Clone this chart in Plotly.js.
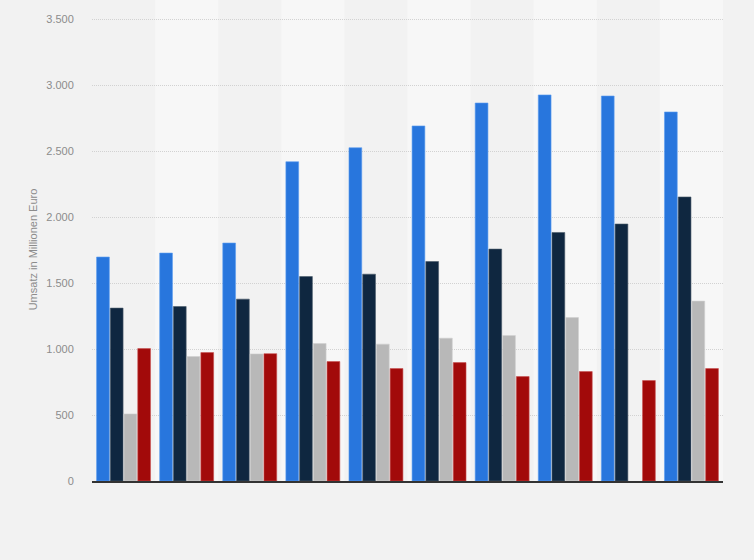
<!DOCTYPE html>
<html>
<head>
<meta charset="utf-8">
<script src="https://cdn.plot.ly/plotly-3.0.1.min.js"></script>
<style>
html,body{margin:0;padding:0;background:#f2f2f2;}
#chart{width:754px;height:560px;}
</style>
</head>
<body>
<div id="chart"></div>
<script>
const categories = ["2010","2011","2012","2013","2014","2015","2016","2017","2018","2019"];
const seriesNames = ["Serie 1","Serie 2","Serie 3","Serie 4"];
const serie1 = [1697, 1727, 1803, 2419, 2525, 2690, 2864, 2925, 2917, 2796];
const serie2 = [1310, 1322, 1378, 1549, 1567, 1663, 1757, 1883, 1947, 2152];
const serie3 = [508, 943, 963, 1041, 1037, 1082, 1102, 1238, null, 1363];
const serie4 = [1003, 973, 965, 905, 852, 897, 791, 829, 761, 852];
const colors = ["#2876dd", "#0f2740", "#b8b8b8", "#a20a0a"];
const lineColors = ["#5a9cf0", "#4a5a6a", "#d0d0d0", "#c85050"];
const yTicks = [0, 500, 1000, 1500, 2000, 2500, 3000, 3500];

const allSeries = [serie1, serie2, serie3, serie4];
const traces = allSeries.map((vals, i) => ({
  type: "bar",
  x: categories,
  y: vals,
  name: seriesNames[i],
  marker: {color: colors[i], line: {color: lineColors[i], width: 0.6}},
  hoverinfo: "y"
}));

const shapes = categories.map((c, i) => i % 2 === 1 ? {
  type: "rect", xref: "x", yref: "paper",
  x0: i - 0.5, x1: i + 0.5, y0: 0, y1: 1.1,
  fillcolor: "#f7f7f7", line: {width: 0}, layer: "below"
} : null).filter(s => s);

const layout = {
  width: 754, height: 560,
  paper_bgcolor: "#f2f2f2",
  plot_bgcolor: "rgba(0,0,0,0)",
  margin: {l: 92, r: 31, t: 18, b: 79},
  separators: ",.",
  showlegend: false,
  barmode: "group",
  bargap: 0.13,
  bargroupgap: 0.07,
  font: {family: "Liberation Sans, Arial, sans-serif", color: "#8c8c8c", size: 11},
  xaxis: {
    type: "category",
    showticklabels: false,
    showgrid: false,
    showline: true,
    linecolor: "#333333",
    linewidth: 1.5,
    ticks: "",
    zeroline: false,
    fixedrange: true
  },
  yaxis: {
    range: [0, 3508],
    tickvals: yTicks,
    tickformat: ",d",
    showgrid: true,
    gridcolor: "#d2d2d2",
    griddash: "1px,1px",
    gridwidth: 1,
    zeroline: false,
    ticks: "outside",
    ticklen: 15,
    tickcolor: "rgba(0,0,0,0)",
    tickfont: {size: 11, color: "#8c8c8c"},
    title: {text: "Umsatz in Millionen Euro", font: {size: 11, color: "#8c8c8c"}, standoff: 6},
    fixedrange: true
  },
  shapes: shapes
};

Plotly.newPlot("chart", traces, layout, {displayModeBar: false, staticPlot: true});
</script>
</body>
</html>
